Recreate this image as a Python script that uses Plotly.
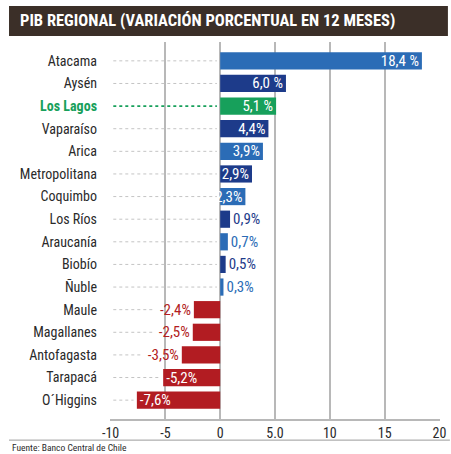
import plotly.graph_objects as go

regions = ["Atacama", "Aysén", "Los Lagos", "Vaparaíso", "Arica", "Metropolitana",
           "Coquimbo", "Los Ríos", "Araucanía", "Biobío", "Ñuble", "Maule",
           "Magallanes", "Antofagasta", "Tarapacá", "O´Higgins"]
values = [18.4, 6.0, 5.1, 4.4, 3.9, 2.9, 2.3, 0.9, 0.7, 0.5, 0.3,
          -2.4, -2.5, -3.5, -5.2, -7.6]
labels = ["18,4 %", "6,0 %", "5,1 %", "4,4%", "3,9%", "2,9%", "2,3%", "0,9%",
          "0,7%", "0,5%", "0,3%", "-2,4%", "-2,5%", "-3,5%", "-5,2%", "-7,6%"]
x_ticks = [-10, -5, 0, 5, 10, 15, 20]
x_ticktext = ["-10", "-5", "0", "5.0", "10", "15", "20"]
title = "PIB REGIONAL (VARIACIÓN PORCENTUAL EN 12 MESES)"
source = "Fuente: Banco Central de Chile"
highlight = "Los Lagos"

NAVY = "#1d3b8a"
MID = "#2b6cb6"
GREEN = "#17a05b"
RED = "#b21c22"
GRID = "#b8b8b8"
FONT = "Roboto Condensed, Liberation Sans Narrow, DejaVu Sans Condensed, sans-serif"

colors = []
pos_i = 0
for r, v in zip(regions, values):
    if r == highlight:
        colors.append(GREEN)
    elif v < 0:
        colors.append(RED)
    else:
        colors.append(MID if pos_i % 2 == 0 else NAVY)
    if v >= 0:
        pos_i += 1

tpos, tcol = [], []
for v, c in zip(values, colors):
    if v >= 2.0 or v <= -5.0:
        tpos.append("inside")
        tcol.append("white")
    else:
        tpos.append("outside")
        tcol.append(c)

fig = go.Figure()

# dotted leader lines from the axis edge to each bar (or its label)
xmin = x_ticks[0]
for r, v, p in zip(regions, values, tpos):
    end = 0 if v >= 0 else (v if p == "inside" else v - 3.4)
    is_h = r == highlight
    fig.add_trace(go.Scatter(
        x=[xmin + 0.25, end - 0.3], y=[r, r], mode="lines",
        line=dict(color=GREEN if is_h else "#c4c4c4", dash="dot",
                  width=1.6 if is_h else 1.0),
        hoverinfo="skip", showlegend=False))

fig.add_trace(go.Bar(
    x=values, y=regions, orientation="h", width=0.76,
    marker=dict(color=colors, line=dict(width=0)),
    text=labels, textposition=tpos, insidetextanchor="end",
    textfont=dict(family=FONT, size=15, color=tcol),
    cliponaxis=False, showlegend=False))

ticktext = [f'<span style="color:{GREEN}"><b>{r}</b></span>' if r == highlight else r
            for r in regions]

fig.update_layout(
    width=451, height=454,
    margin=dict(l=110, r=11, t=42, b=35),
    paper_bgcolor="white", plot_bgcolor="white",
    font=dict(family=FONT, color="#2a2a2a"),
    uniformtext=dict(minsize=15, mode="show"),
    xaxis=dict(range=[-10.05, 20.05], tickvals=x_ticks, ticktext=x_ticktext,
               showgrid=True, gridcolor=GRID, gridwidth=1.5,
               zeroline=False, showline=True, linecolor=GRID, linewidth=1.5,
               ticks="", automargin=False,
               tickfont=dict(size=14, family=FONT, color="#2a2a2a")),
    yaxis=dict(type="category", autorange="reversed",
               tickvals=regions, ticktext=ticktext, automargin=False,
               showgrid=False, zeroline=False, showline=False, ticks="",
               ticklabelstandoff=12,
               tickfont=dict(size=14, family=FONT, color="#2a2a2a")),
    shapes=[
        dict(type="rect", xref="paper", yref="paper",
             x0=-0.306, x1=1.024, y0=1.016, y1=1.0955,
             fillcolor="#3b2f28", line=dict(width=0), layer="above"),
        dict(type="line", xref="paper", yref="paper",
             x0=-0.306, x1=1.03, y0=-0.056, y1=-0.056,
             line=dict(color="#9a9a9a", width=1)),
    ],
    annotations=[
        dict(text=f"<b>{title}</b>", xref="paper", yref="paper",
             x=-0.28, y=1.056, xanchor="left", yanchor="middle",
             showarrow=False, font=dict(family=FONT, size=16.5, color="white")),
        dict(text=source, xref="paper", yref="paper",
             x=-0.303, y=-0.076, xanchor="left", yanchor="middle",
             showarrow=False, font=dict(family=FONT, size=9.5, color="#2a2a2a")),
    ],
)

fig.write_html("out.html", config={"displayModeBar": False},
               post_script="document.body.style.margin='0';")
